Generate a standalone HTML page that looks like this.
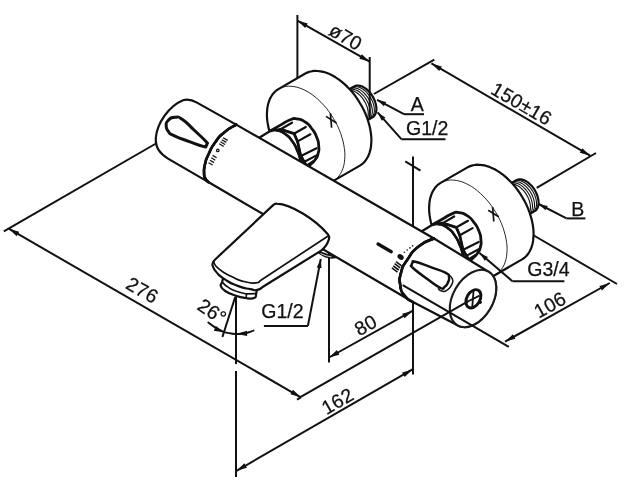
<!DOCTYPE html>
<html><head><meta charset="utf-8"><style>
html,body{margin:0;padding:0;background:#fff;}
body{width:635px;height:487px;overflow:hidden;}
svg{display:block;font-family:"Liberation Sans",sans-serif;will-change:transform;}
</style></head><body>
<svg width="635" height="487" viewBox="0 0 635 487">
<rect width="635" height="487" fill="#fff"/>
<line x1="297.4" y1="15.0" x2="297.4" y2="80.0" stroke="#111" stroke-width="2.0" stroke-linecap="butt"/>
<line x1="373.9" y1="94.0" x2="434.3" y2="59.6" stroke="#111" stroke-width="2.0" stroke-linecap="butt"/>
<line x1="536.7" y1="187.9" x2="596.0" y2="153.0" stroke="#111" stroke-width="2.0" stroke-linecap="butt"/>
<line x1="156.0" y1="143.5" x2="3.8" y2="231.3" stroke="#111" stroke-width="2.0" stroke-linecap="butt"/>
<line x1="413.0" y1="156.5" x2="413.0" y2="374.5" stroke="#111" stroke-width="2.0" stroke-linecap="butt"/>
<line x1="405.3" y1="161.4" x2="420.5" y2="170.7" stroke="#111" stroke-width="2.0" stroke-linecap="butt"/>
<line x1="533.0" y1="235.0" x2="617.0" y2="284.0" stroke="#111" stroke-width="2.0" stroke-linecap="butt"/>
<line x1="329.0" y1="252.0" x2="329.0" y2="362.6" stroke="#111" stroke-width="2.0" stroke-linecap="butt"/>
<path d="M340.2,94.5 L354.1,86.5 L355.3,85.9 L356.8,85.5 L358.3,85.5 L359.9,85.8 L361.6,86.3 L363.3,87.1 L365.0,88.1 L366.7,89.4 L368.3,90.9 L369.9,92.5 L371.3,94.4 L372.6,96.4 L373.7,98.4 L374.6,100.5 L375.4,102.7 L375.9,104.8 L376.3,106.9 L376.4,108.9 L376.3,110.8 L375.9,112.5 L375.4,114.0 L374.6,115.4 L373.7,116.5 L372.5,117.3 L358.7,125.3" fill="#fff" stroke="#111" stroke-width="2.2" stroke-linecap="round" stroke-linejoin="round" />
<path d="M352.5,87.4 L353.8,86.9 L355.2,86.7 L356.8,86.7 L358.3,87.0 L360.0,87.6 L361.6,88.4 L363.3,89.5 L364.9,90.7 L366.4,92.2 L367.9,93.8 L369.3,95.6 L370.5,97.5 L371.6,99.5 L372.6,101.6 L373.3,103.6 L373.9,105.7 L374.2,107.7 L374.3,109.7 L374.3,111.5 L374.0,113.2 L373.5,114.8 L372.9,116.1 L372.0,117.3 L371.0,118.2" fill="none" stroke="#111" stroke-width="1.1" stroke-linecap="round" stroke-linejoin="round" />
<path d="M350.5,88.5 L351.8,88.1 L353.2,87.9 L354.7,87.9 L356.3,88.2 L357.9,88.8 L359.6,89.6 L361.2,90.6 L362.9,91.9 L364.4,93.4 L365.9,95.0 L367.3,96.8 L368.5,98.7 L369.6,100.7 L370.5,102.7 L371.3,104.8 L371.8,106.9 L372.2,108.9 L372.3,110.9 L372.3,112.7 L372.0,114.4 L371.5,116.0 L370.8,117.3 L370.0,118.5 L368.9,119.4" fill="none" stroke="#111" stroke-width="1.1" stroke-linecap="round" stroke-linejoin="round" />
<path d="M348.4,89.7 L349.7,89.2 L351.2,89.0 L352.7,89.1 L354.3,89.4 L355.9,90.0 L357.6,90.8 L359.2,91.8 L360.8,93.1 L362.4,94.6 L363.9,96.2 L365.2,98.0 L366.5,99.9 L367.6,101.9 L368.5,103.9 L369.2,106.0 L369.8,108.1 L370.1,110.1 L370.3,112.0 L370.2,113.9 L369.9,115.6 L369.5,117.1 L368.8,118.5 L367.9,119.6 L366.9,120.6" fill="none" stroke="#111" stroke-width="1.1" stroke-linecap="round" stroke-linejoin="round" />
<path d="M346.4,90.9 L347.7,90.4 L349.1,90.2 L350.6,90.3 L352.2,90.6 L353.9,91.1 L355.5,91.9 L357.2,93.0 L358.8,94.3 L360.3,95.7 L361.8,97.4 L363.2,99.1 L364.4,101.1 L365.5,103.0 L366.4,105.1 L367.2,107.2 L367.7,109.2 L368.1,111.3 L368.2,113.2 L368.2,115.1 L367.9,116.8 L367.4,118.3 L366.8,119.7 L365.9,120.8 L364.9,121.7" fill="none" stroke="#111" stroke-width="1.1" stroke-linecap="round" stroke-linejoin="round" />
<path d="M278.4,89.1 L276.3,90.5 L274.4,92.2 L272.7,94.2 L271.2,96.5 L269.9,98.9 L268.9,101.6 L268.0,104.5 L267.4,107.6 L267.1,110.8 L266.9,114.2 L267.0,117.8 L267.4,121.4 L268.0,125.1 L268.8,128.9 L269.9,132.7 L271.1,136.5 L272.6,140.4 L274.3,144.2 L276.2,147.9 L278.3,151.5 L280.5,155.1 L282.9,158.5 L285.4,161.8 L288.1,164.9 L290.9,167.8 L293.8,170.6 L296.7,173.1 L299.7,175.4 L302.7,177.4 L305.8,179.2 L308.8,180.6 L311.9,181.9 L314.9,182.8 L317.8,183.4 L320.7,183.7 L323.5,183.8 L326.2,183.5 L328.7,182.9 L331.1,182.1 L333.4,180.9 L359.9,165.6 L362.0,164.2 L363.9,162.5 L365.6,160.5 L367.1,158.2 L368.4,155.8 L369.4,153.1 L370.3,150.2 L370.9,147.1 L371.2,143.9 L371.4,140.5 L371.3,136.9 L370.9,133.3 L370.3,129.6 L369.5,125.8 L368.4,122.0 L367.2,118.2 L365.7,114.3 L364.0,110.5 L362.1,106.8 L360.0,103.2 L357.8,99.6 L355.4,96.2 L352.9,92.9 L350.2,89.8 L347.4,86.9 L344.5,84.1 L341.6,81.6 L338.6,79.3 L335.6,77.3 L332.5,75.5 L329.5,74.1 L326.4,72.8 L323.4,71.9 L320.5,71.3 L317.6,71.0 L314.8,70.9 L312.1,71.2 L309.6,71.8 L307.2,72.6 L304.9,73.8Z" fill="#fff" stroke="#111" stroke-width="2.2" stroke-linecap="round" stroke-linejoin="round" />
<path d="M278.4,89.1 L280.7,87.9 L283.1,87.1 L285.6,86.5 L288.3,86.2 L291.1,86.3 L294.0,86.6 L296.9,87.2 L299.9,88.1 L303.0,89.4 L306.0,90.8 L309.1,92.6 L312.1,94.6 L315.1,96.9 L318.0,99.4 L320.9,102.2 L323.7,105.1 L326.4,108.2 L328.9,111.5 L331.3,114.9 L333.5,118.5 L335.6,122.1 L337.5,125.8 L339.2,129.6 L340.7,133.5 L341.9,137.3 L343.0,141.1 L343.8,144.9 L344.4,148.6 L344.8,152.2 L344.9,155.8 L344.7,159.2 L344.4,162.4 L343.8,165.5 L342.9,168.4 L341.9,171.1 L340.6,173.5 L339.1,175.8 L337.4,177.8 L335.5,179.5 L333.4,180.9" fill="none" stroke="#111" stroke-width="0.9" stroke-linecap="round" stroke-linejoin="round" />
<line x1="326.0" y1="116.4" x2="336.5" y2="123.0" stroke="#111" stroke-width="1.7" stroke-linecap="butt"/>
<line x1="330.4" y1="113.2" x2="331.6" y2="127.7" stroke="#111" stroke-width="1.7" stroke-linecap="butt"/>
<path d="M270.5,130.8 C273.7,129.0 273.4,129.1 280.0,125.4 C286.6,121.7 284.6,122.0 290.2,119.8 C295.8,117.6 291.9,118.2 296.7,118.8 C301.5,119.4 299.6,118.5 304.5,121.6 C309.4,124.7 307.3,122.9 311.3,128.0 C315.3,133.1 314.1,131.0 316.6,137.0 C319.1,143.0 318.2,140.5 318.7,146.0 C319.2,151.5 319.2,149.0 318.1,153.5 C317.0,158.0 317.7,156.0 315.3,159.5 C312.9,163.0 314.1,160.8 311.0,164.0 C307.9,167.2 307.7,167.3 306.0,169.0 L306.5,166.0 L304.2,162.0 L300.6,155.3 L297.6,141.7 L294.1,133.6 L280.6,129.3 L273.0,131.0Z" fill="#fff" stroke="#111" stroke-width="2.8" stroke-linecap="round" stroke-linejoin="round" />
<path d="M273.0,131.0 L280.6,129.3 L294.1,133.6 L297.6,141.7 L300.6,155.3 L304.2,162.0 L306.5,166.0" fill="none" stroke="#111" stroke-width="2.1" stroke-linecap="round" stroke-linejoin="round" />
<path d="M280.6,129.3 L292.0,122.7" fill="none" stroke="#111" stroke-width="2.2" stroke-linecap="round" stroke-linejoin="round" />
<path d="M294.3,133.5 L305.8,127.0" fill="none" stroke="#111" stroke-width="2.2" stroke-linecap="round" stroke-linejoin="round" />
<path d="M297.6,141.4 L310.4,134.3" fill="none" stroke="#111" stroke-width="2.2" stroke-linecap="round" stroke-linejoin="round" />
<path d="M301.0,156.0 L316.5,148.2" fill="none" stroke="#111" stroke-width="2.2" stroke-linecap="round" stroke-linejoin="round" />
<path d="M304.5,161.8 L316.5,155.4" fill="none" stroke="#111" stroke-width="2.2" stroke-linecap="round" stroke-linejoin="round" />
<path d="M307.5,165.0 L313.0,161.5" fill="none" stroke="#111" stroke-width="2.2" stroke-linecap="round" stroke-linejoin="round" />
<path d="M258.0,138.5 L269.8,131.2 C272.2,130.9 271.7,129.3 276.9,130.3 C282.1,131.3 280.2,130.4 285.4,134.2 C290.6,138.0 288.5,136.1 292.5,141.6 C296.5,147.1 294.7,144.9 297.3,150.6 C299.9,156.3 298.5,153.7 300.2,158.8 C301.9,163.9 301.6,163.6 302.3,166.0 L280.0,172.0 Z" fill="#fff" stroke="#111" stroke-width="2.2" stroke-linecap="round" stroke-linejoin="round" />
<path d="M269.8,131.2 C272.2,130.9 271.7,129.3 276.9,130.3 C282.1,131.3 280.2,130.4 285.4,134.2 C290.6,138.0 288.5,136.1 292.5,141.6 C296.5,147.1 294.7,144.9 297.3,150.6 C299.9,156.3 298.5,153.7 300.2,158.8 C301.9,163.9 301.6,163.6 302.3,166.0" fill="none" stroke="#111" stroke-width="2.6" stroke-linecap="round" stroke-linejoin="round" />
<path d="M502.4,188.3 L516.3,180.3 L517.5,179.7 L519.0,179.3 L520.5,179.3 L522.1,179.6 L523.8,180.1 L525.5,180.9 L527.2,181.9 L528.9,183.2 L530.5,184.7 L532.1,186.3 L533.5,188.2 L534.8,190.2 L535.9,192.2 L536.8,194.3 L537.6,196.5 L538.1,198.6 L538.5,200.7 L538.6,202.7 L538.5,204.6 L538.1,206.3 L537.6,207.8 L536.8,209.2 L535.9,210.3 L534.7,211.1 L520.9,219.1" fill="#fff" stroke="#111" stroke-width="2.2" stroke-linecap="round" stroke-linejoin="round" />
<path d="M514.7,181.2 L516.0,180.7 L517.4,180.5 L519.0,180.5 L520.5,180.8 L522.2,181.4 L523.8,182.2 L525.5,183.3 L527.1,184.5 L528.6,186.0 L530.1,187.6 L531.5,189.4 L532.7,191.3 L533.8,193.3 L534.8,195.4 L535.5,197.4 L536.1,199.5 L536.4,201.5 L536.5,203.5 L536.5,205.3 L536.2,207.0 L535.7,208.6 L535.1,209.9 L534.2,211.1 L533.2,212.0" fill="none" stroke="#111" stroke-width="1.1" stroke-linecap="round" stroke-linejoin="round" />
<path d="M512.7,182.3 L514.0,181.9 L515.4,181.7 L516.9,181.7 L518.5,182.0 L520.1,182.6 L521.8,183.4 L523.4,184.4 L525.1,185.7 L526.6,187.2 L528.1,188.8 L529.5,190.6 L530.7,192.5 L531.8,194.5 L532.7,196.5 L533.5,198.6 L534.0,200.7 L534.4,202.7 L534.5,204.7 L534.5,206.5 L534.2,208.2 L533.7,209.8 L533.0,211.1 L532.2,212.3 L531.1,213.2" fill="none" stroke="#111" stroke-width="1.1" stroke-linecap="round" stroke-linejoin="round" />
<path d="M510.6,183.5 L511.9,183.0 L513.4,182.8 L514.9,182.9 L516.5,183.2 L518.1,183.8 L519.8,184.6 L521.4,185.6 L523.0,186.9 L524.6,188.4 L526.1,190.0 L527.4,191.8 L528.7,193.7 L529.8,195.7 L530.7,197.7 L531.4,199.8 L532.0,201.9 L532.3,203.9 L532.5,205.8 L532.4,207.7 L532.1,209.4 L531.7,210.9 L531.0,212.3 L530.1,213.4 L529.1,214.4" fill="none" stroke="#111" stroke-width="1.1" stroke-linecap="round" stroke-linejoin="round" />
<path d="M508.6,184.7 L509.9,184.2 L511.3,184.0 L512.8,184.1 L514.4,184.4 L516.1,184.9 L517.7,185.7 L519.4,186.8 L521.0,188.1 L522.5,189.5 L524.0,191.2 L525.4,192.9 L526.6,194.9 L527.7,196.8 L528.6,198.9 L529.4,201.0 L529.9,203.0 L530.3,205.1 L530.4,207.0 L530.4,208.9 L530.1,210.6 L529.6,212.1 L529.0,213.5 L528.1,214.6 L527.1,215.5" fill="none" stroke="#111" stroke-width="1.1" stroke-linecap="round" stroke-linejoin="round" />
<path d="M440.6,182.9 L438.5,184.3 L436.6,186.0 L434.9,188.0 L433.4,190.3 L432.1,192.7 L431.1,195.4 L430.2,198.3 L429.6,201.4 L429.3,204.6 L429.1,208.0 L429.2,211.6 L429.6,215.2 L430.2,218.9 L431.0,222.7 L432.1,226.5 L433.3,230.3 L434.8,234.2 L436.5,238.0 L438.4,241.7 L440.5,245.3 L442.7,248.9 L445.1,252.3 L447.6,255.6 L450.3,258.7 L453.1,261.6 L456.0,264.4 L458.9,266.9 L461.9,269.2 L464.9,271.2 L468.0,273.0 L471.0,274.4 L474.1,275.7 L477.1,276.6 L480.0,277.2 L482.9,277.5 L485.7,277.6 L488.4,277.3 L490.9,276.7 L493.3,275.9 L495.6,274.7 L522.1,259.4 L524.2,258.0 L526.1,256.3 L527.8,254.3 L529.3,252.0 L530.6,249.6 L531.6,246.9 L532.5,244.0 L533.1,240.9 L533.4,237.7 L533.6,234.3 L533.5,230.7 L533.1,227.1 L532.5,223.4 L531.7,219.6 L530.6,215.8 L529.4,212.0 L527.9,208.1 L526.2,204.3 L524.3,200.6 L522.2,197.0 L520.0,193.4 L517.6,190.0 L515.1,186.7 L512.4,183.6 L509.6,180.7 L506.7,177.9 L503.8,175.4 L500.8,173.1 L497.8,171.1 L494.7,169.3 L491.7,167.9 L488.6,166.6 L485.6,165.7 L482.7,165.1 L479.8,164.8 L477.0,164.7 L474.3,165.0 L471.8,165.6 L469.4,166.4 L467.1,167.6Z" fill="#fff" stroke="#111" stroke-width="2.2" stroke-linecap="round" stroke-linejoin="round" />
<path d="M440.6,182.9 L442.9,181.7 L445.3,180.9 L447.8,180.3 L450.5,180.0 L453.3,180.1 L456.2,180.4 L459.1,181.0 L462.1,181.9 L465.2,183.2 L468.2,184.6 L471.3,186.4 L474.3,188.4 L477.3,190.7 L480.2,193.2 L483.1,196.0 L485.9,198.9 L488.6,202.0 L491.1,205.3 L493.5,208.7 L495.7,212.3 L497.8,215.9 L499.7,219.6 L501.4,223.4 L502.9,227.3 L504.1,231.1 L505.2,234.9 L506.0,238.7 L506.6,242.4 L507.0,246.0 L507.1,249.6 L506.9,253.0 L506.6,256.2 L506.0,259.3 L505.1,262.2 L504.1,264.9 L502.8,267.3 L501.3,269.6 L499.6,271.6 L497.7,273.3 L495.6,274.7" fill="none" stroke="#111" stroke-width="0.9" stroke-linecap="round" stroke-linejoin="round" />
<line x1="488.2" y1="210.2" x2="498.7" y2="216.8" stroke="#111" stroke-width="1.7" stroke-linecap="butt"/>
<line x1="492.6" y1="207.0" x2="493.8" y2="221.5" stroke="#111" stroke-width="1.7" stroke-linecap="butt"/>
<path d="M432.7,224.6 C435.9,222.8 435.6,222.9 442.2,219.2 C448.8,215.5 446.8,215.8 452.4,213.6 C458.0,211.4 454.1,212.0 458.9,212.6 C463.7,213.2 461.8,212.3 466.7,215.4 C471.6,218.5 469.5,216.7 473.5,221.8 C477.5,226.9 476.3,224.8 478.8,230.8 C481.3,236.8 480.4,234.3 480.9,239.8 C481.4,245.3 481.4,242.8 480.3,247.3 C479.2,251.8 479.9,249.8 477.5,253.3 C475.1,256.8 476.3,254.6 473.2,257.8 C470.1,261.0 469.9,261.1 468.2,262.8 L468.7,259.8 L466.4,255.8 L462.8,249.1 L459.8,235.5 L456.3,227.4 L442.8,223.1 L435.2,224.8Z" fill="#fff" stroke="#111" stroke-width="2.8" stroke-linecap="round" stroke-linejoin="round" />
<path d="M435.2,224.8 L442.8,223.1 L456.3,227.4 L459.8,235.5 L462.8,249.1 L466.4,255.8 L468.7,259.8" fill="none" stroke="#111" stroke-width="2.1" stroke-linecap="round" stroke-linejoin="round" />
<path d="M442.8,223.1 L454.2,216.5" fill="none" stroke="#111" stroke-width="2.2" stroke-linecap="round" stroke-linejoin="round" />
<path d="M456.5,227.3 L468.0,220.8" fill="none" stroke="#111" stroke-width="2.2" stroke-linecap="round" stroke-linejoin="round" />
<path d="M459.8,235.2 L472.6,228.1" fill="none" stroke="#111" stroke-width="2.2" stroke-linecap="round" stroke-linejoin="round" />
<path d="M463.2,249.8 L478.7,242.0" fill="none" stroke="#111" stroke-width="2.2" stroke-linecap="round" stroke-linejoin="round" />
<path d="M466.7,255.6 L478.7,249.2" fill="none" stroke="#111" stroke-width="2.2" stroke-linecap="round" stroke-linejoin="round" />
<path d="M469.7,258.8 L475.2,255.3" fill="none" stroke="#111" stroke-width="2.2" stroke-linecap="round" stroke-linejoin="round" />
<path d="M420.2,232.3 L432.0,225.0 C434.4,224.7 433.9,223.1 439.1,224.1 C444.3,225.1 442.4,224.2 447.6,228.0 C452.8,231.8 450.7,229.9 454.7,235.4 C458.7,240.9 456.9,238.7 459.5,244.4 C462.1,250.1 460.7,247.5 462.4,252.6 C464.1,257.7 463.8,257.4 464.5,259.8 L442.2,265.8 Z" fill="#fff" stroke="#111" stroke-width="2.2" stroke-linecap="round" stroke-linejoin="round" />
<path d="M432.0,225.0 C434.4,224.7 433.9,223.1 439.1,224.1 C444.3,225.1 442.4,224.2 447.6,228.0 C452.8,231.8 450.7,229.9 454.7,235.4 C458.7,240.9 456.9,238.7 459.5,244.4 C462.1,250.1 460.7,247.5 462.4,252.6 C464.1,257.7 463.8,257.4 464.5,259.8" fill="none" stroke="#111" stroke-width="2.6" stroke-linecap="round" stroke-linejoin="round" />
<path d="M236.2,124.6 L434,238.5  C429.0,241.1 427.7,239.3 418.9,246.3 C410.1,253.3 413.5,250.8 407.6,259.5 C401.7,268.2 403.6,263.6 401.2,272.3 C398.8,281.0 399.3,277.8 400.4,285.5 C401.5,293.2 400.5,290.1 404.5,295.5 C408.5,300.9 409.8,299.7 412.5,301.8 L208.3,182.0  C207.3,180.8 206.7,181.5 205.3,178.5 C203.9,175.5 204.1,177.8 204.0,173.0 C203.9,168.2 203.5,170.3 205.0,164.0 C206.5,157.7 205.2,161.3 208.6,154.0 C212.0,146.7 209.9,149.5 215.2,142.2 C220.5,134.9 217.4,138.1 224.4,132.2 C231.4,126.3 232.3,127.1 236.2,124.6Z" fill="#fff" stroke="#111" stroke-width="2.2" stroke-linecap="round" stroke-linejoin="round" />
<path d="M236.2,124.6 C232.3,127.1 231.4,126.3 224.4,132.2 C217.4,138.1 220.5,134.9 215.2,142.2 C209.9,149.5 212.0,146.7 208.6,154.0 C205.2,161.3 206.5,157.7 205.0,164.0 C203.5,170.3 203.9,168.2 204.0,173.0 C204.1,177.8 203.9,175.5 205.3,178.5 C206.7,181.5 207.3,180.8 208.3,182.0" fill="none" stroke="#111" stroke-width="2.7" stroke-linecap="round" stroke-linejoin="round" />
<path d="M434.0,238.5 C429.0,241.1 427.7,239.3 418.9,246.3 C410.1,253.3 413.5,250.8 407.6,259.5 C401.7,268.2 403.6,263.6 401.2,272.3 C398.8,281.0 399.3,277.8 400.4,285.5 C401.5,293.2 400.5,290.1 404.5,295.5 C408.5,300.9 409.8,299.7 412.5,301.8" fill="none" stroke="#111" stroke-width="2.7" stroke-linecap="round" stroke-linejoin="round" />
<path d="M236.2,124.6 L196.5,102.4 Q189.8,98.6 183,100.2 C169,106 157,123 155.8,138 C155.3,148 160,153.5 168,158.6 L206.3,180.9 L208.3,182.0 C207.3,180.8 206.7,181.5 205.3,178.5 C203.9,175.5 204.1,177.8 204.0,173.0 C203.9,168.2 203.5,170.3 205.0,164.0 C206.5,157.7 205.2,161.3 208.6,154.0 C212.0,146.7 209.9,149.5 215.2,142.2 C220.5,134.9 217.4,138.1 224.4,132.2 C231.4,126.3 232.3,127.1 236.2,124.6Z" fill="#fff" stroke="#111" stroke-width="2.2" stroke-linecap="round" stroke-linejoin="round" />
<path d="M236.2,124.6 C232.3,127.1 231.4,126.3 224.4,132.2 C217.4,138.1 220.5,134.9 215.2,142.2 C209.9,149.5 212.0,146.7 208.6,154.0 C205.2,161.3 206.5,157.7 205.0,164.0 C203.5,170.3 203.9,168.2 204.0,173.0 C204.1,177.8 203.9,175.5 205.3,178.5 C206.7,181.5 207.3,180.8 208.3,182.0" fill="none" stroke="#111" stroke-width="2.7" stroke-linecap="round" stroke-linejoin="round" />
<path d="M175.3,117.2 C179.5,117.0 176.9,115.7 182.5,119.5 C188.1,123.3 187.2,123.6 194.0,130.0 C200.8,136.4 201.4,136.7 205.3,140.8 C209.2,144.9 206.8,142.0 206.9,143.6 C207.1,145.2 206.9,145.2 205.8,146.0 C204.7,146.8 207.9,147.7 203.2,146.4 C198.5,145.1 198.6,145.0 190.0,141.8 C181.4,138.6 181.0,138.9 174.5,135.8 C168.0,132.7 170.9,134.6 168.4,131.5 C165.9,128.4 166.2,129.0 166.2,125.6 C166.2,122.2 165.7,122.7 168.4,120.2 C171.1,117.7 171.1,117.4 175.3,117.2Z" fill="none" stroke="#111" stroke-width="3.0" stroke-linecap="round" stroke-linejoin="round" />
<line x1="219.2" y1="143.8" x2="223.8" y2="146.5" stroke="#111" stroke-width="1.3" stroke-linecap="butt"/>
<line x1="220.5" y1="141.8" x2="225.1" y2="144.5" stroke="#111" stroke-width="1.3" stroke-linecap="butt"/>
<line x1="221.8" y1="139.8" x2="226.4" y2="142.4" stroke="#111" stroke-width="1.3" stroke-linecap="butt"/>
<line x1="223.1" y1="137.8" x2="227.7" y2="140.4" stroke="#111" stroke-width="1.3" stroke-linecap="butt"/>
<circle cx="217.8" cy="150.4" r="1.25" fill="none" stroke="#111" stroke-width="1.2"/>
<line x1="212.6" y1="155.4" x2="216.6" y2="157.8" stroke="#111" stroke-width="1.3" stroke-linecap="butt"/>
<line x1="211.3" y1="157.8" x2="215.3" y2="160.2" stroke="#111" stroke-width="1.3" stroke-linecap="butt"/>
<line x1="210.0" y1="160.2" x2="214.0" y2="162.6" stroke="#111" stroke-width="1.3" stroke-linecap="butt"/>
<line x1="208.6" y1="162.7" x2="212.6" y2="165.0" stroke="#111" stroke-width="1.3" stroke-linecap="butt"/>
<path d="M434,238.5 L488.5,271.7 L490.6,273.2 L492.5,275.2 L493.9,277.5 L495.1,280.2 L495.8,283.3 L496.2,286.6 L496.2,290.1 L495.8,293.7 L494.9,297.5 L493.7,301.2 L492.2,304.9 L490.3,308.5 L488.1,311.9 L485.7,315.1 L483.1,318.0 L480.2,320.6 L477.3,322.8 L474.3,324.6 L471.2,325.9 L468.2,326.8 L465.3,327.1 L462.5,327.0 L459.9,326.4 L457.5,325.3 L412.5,301.8  C409.8,299.7 408.5,300.9 404.5,295.5 C400.5,290.1 401.5,293.2 400.4,285.5 C399.3,277.8 398.8,281.0 401.2,272.3 C403.6,263.6 401.7,268.2 407.6,259.5 C413.5,250.8 410.1,253.3 418.9,246.3 C427.7,239.3 429.0,241.1 434.0,238.5Z" fill="#fff" stroke="#111" stroke-width="2.2" stroke-linecap="round" stroke-linejoin="round" />
<path d="M434.0,238.5 C429.0,241.1 427.7,239.3 418.9,246.3 C410.1,253.3 413.5,250.8 407.6,259.5 C401.7,268.2 403.6,263.6 401.2,272.3 C398.8,281.0 399.3,277.8 400.4,285.5 C401.5,293.2 400.5,290.1 404.5,295.5 C408.5,300.9 409.8,299.7 412.5,301.8" fill="none" stroke="#111" stroke-width="2.7" stroke-linecap="round" stroke-linejoin="round" />
<ellipse cx="473" cy="298.5" rx="20" ry="31" transform="rotate(30 473 298.5)" fill="#fff" stroke="#1a1a1a" stroke-width="2.1"/>
<path d="M411.7,265.1 C411.5,263.5 411.7,263.5 412.7,262.5 C413.7,261.5 410.6,260.5 415.4,261.7 C420.2,262.9 421.6,263.8 430.0,266.9 C438.4,270.0 440.1,269.9 445.4,272.7 C450.7,275.5 448.3,274.1 449.0,276.9 C449.7,279.7 449.1,279.8 447.9,282.6 C446.7,285.4 446.8,285.3 444.7,286.8 C442.6,288.3 445.1,289.8 440.4,287.8 C435.7,285.8 435.6,285.1 428.0,279.6 C420.4,274.1 417.9,272.4 413.3,268.3 C408.7,264.2 411.9,266.7 411.7,265.1Z" fill="none" stroke="#111" stroke-width="2.5" stroke-linecap="round" stroke-linejoin="round" />
<path d="M447.4,274.0 C449.0,275.6 450.9,275.0 452.3,278.7 C453.7,282.4 453.3,281.1 451.5,285.0 C449.7,288.9 450.0,288.3 446.8,290.3 C443.6,292.3 444.7,291.5 441.9,291.0 C439.1,290.5 439.5,289.6 438.3,288.9" fill="none" stroke="#111" stroke-width="1.5" stroke-linecap="round" stroke-linejoin="round" />
<ellipse cx="473.4" cy="298.8" rx="6.6" ry="9.8" transform="rotate(30 473.4 298.8)" fill="none" stroke="#111" stroke-width="2.9"/>
<line x1="467.2" y1="301.8" x2="479.6" y2="295.6" stroke="#111" stroke-width="1.8" stroke-linecap="butt"/>
<line x1="473.6" y1="290.3" x2="472.2" y2="307.8" stroke="#111" stroke-width="1.8" stroke-linecap="butt"/>
<circle cx="480.2" cy="302.3" r="1.7" fill="#111"/>
<line x1="391.9" y1="267.9" x2="397.5" y2="272.1" stroke="#111" stroke-width="1.6" stroke-linecap="butt"/>
<line x1="393.2" y1="265.8" x2="398.8" y2="270.0" stroke="#111" stroke-width="1.6" stroke-linecap="butt"/>
<line x1="394.6" y1="263.7" x2="400.2" y2="267.9" stroke="#111" stroke-width="1.6" stroke-linecap="butt"/>
<line x1="396.0" y1="261.7" x2="401.6" y2="265.9" stroke="#111" stroke-width="1.6" stroke-linecap="butt"/>
<ellipse cx="400.6" cy="257.0" rx="3.3" ry="2.5" transform="rotate(30 400.6 257)" fill="#111"/>
<circle cx="404.4" cy="252.2" r="0.8" fill="#111"/>
<circle cx="407.2" cy="250.0" r="0.8" fill="#111"/>
<circle cx="410.0" cy="247.9" r="0.8" fill="#111"/>
<circle cx="412.6" cy="245.9" r="0.8" fill="#111"/>
<line x1="378" y1="244" x2="391.3" y2="251.7" stroke="#111" stroke-width="3.3" stroke-linecap="round"/>
<path d="M317.4,251.3 L335.6,257.4 Q326,259.5 317.4,251.3Z" fill="#111" stroke="#111" stroke-width="1.6" stroke-linejoin="round"/>
<path d="M320.5,253.6 Q326,256.3 331.5,256.9" fill="none" stroke="#fff" stroke-width="0.8"/>
<path d="M222.9,279.0 C222.7,279.9 222.5,280.6 222.0,282.5 C221.5,284.4 220.0,283.9 220.9,286.2 C221.8,288.5 221.4,288.5 225.2,291.0 C229.0,293.5 229.9,293.6 235.3,295.5 C240.7,297.4 240.3,297.3 245.3,298.0 C250.3,298.7 251.3,299.3 254.2,298.1 C257.1,296.9 255.5,296.2 256.2,293.5 C256.9,290.8 256.8,289.5 257.0,288.0" fill="#fff" stroke="#111" stroke-width="2.2" stroke-linecap="round" stroke-linejoin="round" />
<path d="M222.4,282.3 C224.1,283.8 224.1,284.6 228.0,287.2 C231.9,289.8 229.9,288.9 235.5,290.9 C241.1,292.9 243.3,293.0 246.6,293.9 L256.1,293.6" fill="none" stroke="#111" stroke-width="1.6" stroke-linecap="round" stroke-linejoin="round" />
<path d="M246.6,293.9 L246.1,297.6" fill="none" stroke="#111" stroke-width="1.6" stroke-linecap="round" stroke-linejoin="round" />
<path d="M217.8,257 L273.4,204.9 Q274.8,203.4 276.8,203.7 C291,204.5 315,219 327.8,234.3 Q330,237 328.6,240.2 Q326.5,246.5 321.5,250.4 L263,286.8  C261.1,287.8 261.5,289.0 257.3,289.8 C253.1,290.6 256.9,290.5 250.4,289.2 C243.9,287.9 246.2,289.1 237.8,285.9 C229.4,282.7 232.3,284.2 225.2,279.6 C218.1,275.0 220.6,276.9 216.4,272.1 C212.2,267.3 213.8,267.5 212.5,265.2 Q211.8,262.2 217.8,257Z" fill="#fff" stroke="#111" stroke-width="2.2" stroke-linecap="round" stroke-linejoin="round" />
<path d="M213.4,261.5 C215.2,264.0 212.9,263.9 218.9,268.9 C224.9,273.9 223.1,272.3 231.5,276.5 C239.9,280.7 236.1,279.4 244.1,281.5 C252.1,283.6 249.9,283.2 255.4,282.9 C260.9,282.6 258.8,281.3 260.5,280.5 L327.4,236.5" fill="none" stroke="#111" stroke-width="1.7" stroke-linecap="round" stroke-linejoin="round" />
<line x1="369.7" y1="57.0" x2="369.7" y2="118.5" stroke="#111" stroke-width="2.0" stroke-linecap="butt"/>
<line x1="297.4" y1="20.6" x2="369.7" y2="61.7" stroke="#111" stroke-width="2.0" stroke-linecap="butt"/>
<polygon points="297.4,20.6 307.8,23.5 305.2,28.0" fill="#111"/>
<polygon points="369.7,61.7 359.3,58.8 361.9,54.3" fill="#111"/>
<text transform="translate(342.3,42.7) rotate(29.616703033118682) scale(1.0,1)" font-size="19.5" text-anchor="middle" letter-spacing="0.2" fill="#111" stroke="#111" stroke-width="0.25">ø70</text>
<line x1="431.4" y1="63.4" x2="590.2" y2="155.7" stroke="#111" stroke-width="2.0" stroke-linecap="butt"/>
<polygon points="431.4,63.4 441.8,66.4 439.2,70.9" fill="#111"/>
<polygon points="590.2,155.7 579.8,152.7 582.4,148.2" fill="#111"/>
<text transform="translate(518.1,109.5) rotate(30.166621381765093) scale(1.0,1)" font-size="19.5" text-anchor="middle" letter-spacing="0.2" fill="#111" stroke="#111" stroke-width="0.25">150±16</text>
<line x1="8.8" y1="228.7" x2="300.8" y2="397.3" stroke="#111" stroke-width="2.0" stroke-linecap="butt"/>
<polygon points="8.8,228.7 19.2,231.7 16.6,236.2" fill="#111"/>
<polygon points="300.8,397.3 290.4,394.3 293.0,389.8" fill="#111"/>
<line x1="300.8" y1="397.3" x2="297.0" y2="399.6" stroke="#111" stroke-width="2.0" stroke-linecap="butt"/>
<text transform="translate(138.9,296.0) rotate(30.002019252017824) scale(1.0,1)" font-size="19.5" text-anchor="middle" letter-spacing="0.2" fill="#111" stroke="#111" stroke-width="0.25">276</text>
<line x1="236.0" y1="296.5" x2="236.0" y2="364.0" stroke="#111" stroke-width="2.0" stroke-linecap="butt"/>
<line x1="236.0" y1="371.0" x2="236.0" y2="477.0" stroke="#111" stroke-width="2.0" stroke-linecap="butt"/>
<line x1="236.5" y1="470.8" x2="412.5" y2="369.4" stroke="#111" stroke-width="2.0" stroke-linecap="butt"/>
<polygon points="236.5,470.8 244.3,463.3 246.9,467.8" fill="#111"/>
<polygon points="412.5,369.4 404.7,376.9 402.1,372.4" fill="#111"/>
<text transform="translate(340.9,407.0) rotate(-29.947808832146595) scale(1.0,1)" font-size="19.5" text-anchor="middle" letter-spacing="0.2" fill="#111" stroke="#111" stroke-width="0.25">162</text>
<line x1="329.0" y1="357.5" x2="412.5" y2="310.9" stroke="#111" stroke-width="2.0" stroke-linecap="butt"/>
<polygon points="329.0,357.5 336.9,350.1 339.4,354.7" fill="#111"/>
<polygon points="412.5,310.9 404.6,318.3 402.1,313.7" fill="#111"/>
<text transform="translate(369.0,331.1) rotate(-29.165179869438344) scale(1.0,1)" font-size="19.5" text-anchor="middle" letter-spacing="0.2" fill="#111" stroke="#111" stroke-width="0.25">80</text>
<line x1="468.0" y1="301.4" x2="299.0" y2="397.8" stroke="#111" stroke-width="2.0" stroke-linecap="butt"/>
<line x1="402.7" y1="285.2" x2="508.8" y2="346.8" stroke="#111" stroke-width="2.0" stroke-linecap="butt"/>
<line x1="505.0" y1="341.7" x2="609.8" y2="283.0" stroke="#111" stroke-width="2.0" stroke-linecap="butt"/>
<polygon points="505.0,341.7 512.9,334.3 515.4,338.8" fill="#111"/>
<polygon points="609.8,283.0 601.9,290.4 599.4,285.9" fill="#111"/>
<text transform="translate(553.2,310.7) rotate(-29.253820448293855) scale(1.0,1)" font-size="19.5" text-anchor="middle" letter-spacing="0.2" fill="#111" stroke="#111" stroke-width="0.25">106</text>
<line x1="235.2" y1="297.0" x2="222.4" y2="337.0" stroke="#111" stroke-width="2.0" stroke-linecap="butt"/>
<path d="M208.3,322.5 C211.9,324.9 211.4,326.0 219.0,329.6 C226.6,333.2 223.0,332.1 231.0,333.4 C239.0,334.7 235.5,334.3 243.0,333.4 C250.5,332.5 250.0,331.5 253.5,330.6" fill="none" stroke="#111" stroke-width="2.0" stroke-linecap="round" stroke-linejoin="round" />
<polygon points="224.4,332.6 213.8,330.7 215.9,325.9" fill="#111"/>
<polygon points="236.6,334.0 246.9,330.7 247.2,335.9" fill="#111"/>
<text transform="translate(208.3,316.9) rotate(34) scale(1.0,1)" font-size="19.5" text-anchor="middle" letter-spacing="0" fill="#111" stroke="#111" stroke-width="0.25">26°</text>
<text transform="translate(417.2,110.9) rotate(0) scale(1.0,1)" font-size="19.5" text-anchor="middle" letter-spacing="0.0" fill="#111" stroke="#111" stroke-width="0.25">A</text>
<line x1="404.0" y1="114.2" x2="424.0" y2="114.2" stroke="#111" stroke-width="2.0" stroke-linecap="butt"/>
<line x1="404.0" y1="114.2" x2="377.1" y2="99.8" stroke="#111" stroke-width="2.0" stroke-linecap="butt"/>
<polygon points="377.1,99.8 386.2,101.9 383.9,106.2" fill="#111"/>
<text transform="translate(427.1,134.9) rotate(0) scale(1.0,1)" font-size="19.5" text-anchor="middle" letter-spacing="0" fill="#111" stroke="#111" stroke-width="0.25">G1/2</text>
<line x1="401.6" y1="139.3" x2="445.5" y2="139.3" stroke="#111" stroke-width="2.0" stroke-linecap="butt"/>
<line x1="401.6" y1="139.3" x2="377.6" y2="112.4" stroke="#111" stroke-width="2.0" stroke-linecap="butt"/>
<polygon points="377.6,112.4 385.4,117.5 381.8,120.7" fill="#111"/>
<text transform="translate(577.7,215.8) rotate(0) scale(1.0,1)" font-size="19.5" text-anchor="middle" letter-spacing="0.0" fill="#111" stroke="#111" stroke-width="0.25">B</text>
<line x1="566.5" y1="218.4" x2="585.4" y2="218.4" stroke="#111" stroke-width="2.0" stroke-linecap="butt"/>
<line x1="566.5" y1="218.4" x2="538.6" y2="204.0" stroke="#111" stroke-width="2.0" stroke-linecap="butt"/>
<polygon points="538.6,204.0 547.7,206.0 545.5,210.3" fill="#111"/>
<text transform="translate(548.4,275.6) rotate(0) scale(1.0,1)" font-size="19.5" text-anchor="middle" letter-spacing="0" fill="#111" stroke="#111" stroke-width="0.25">G3/4</text>
<line x1="512.4" y1="281.2" x2="564.4" y2="281.2" stroke="#111" stroke-width="2.0" stroke-linecap="butt"/>
<line x1="512.4" y1="281.2" x2="479.5" y2="253.0" stroke="#111" stroke-width="2.0" stroke-linecap="butt"/>
<polygon points="479.5,253.0 487.9,257.0 484.8,260.7" fill="#111"/>
<text transform="translate(282.5,318.3) rotate(0) scale(1.0,1)" font-size="19.5" text-anchor="middle" letter-spacing="0" fill="#111" stroke="#111" stroke-width="0.25">G1/2</text>
<line x1="263.9" y1="325.9" x2="307.9" y2="325.9" stroke="#111" stroke-width="2.0" stroke-linecap="butt"/>
<line x1="307.9" y1="325.9" x2="320.8" y2="259.0" stroke="#111" stroke-width="2.0" stroke-linecap="butt"/>
<polygon points="320.8,259.0 321.5,268.3 316.7,267.4" fill="#111"/>
</svg>
</body></html>
